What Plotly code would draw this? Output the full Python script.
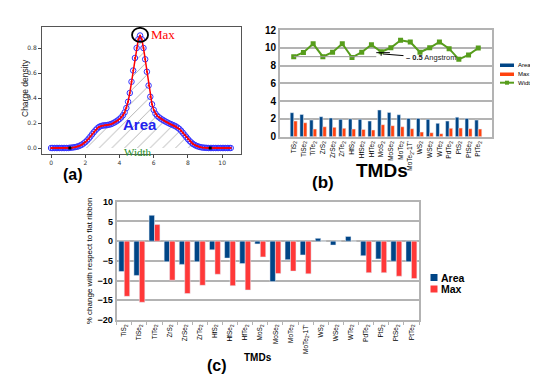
import plotly.graph_objects as go

# ---- panel (a): charge density profile ----
pos = [round(0.1 * i, 1) for i in range(106)]
density = [
    0.0, 0.0, 0.0, 0.0, 0.0, 0.0, 0.0, 0.0, 0.0, 0.0, 0.0,
    0.002, 0.003, 0.005, 0.007, 0.010, 0.014, 0.020, 0.027, 0.036, 0.047,
    0.060, 0.075, 0.092, 0.110, 0.127, 0.143, 0.157, 0.168, 0.175, 0.179,
    0.181, 0.182, 0.184, 0.187, 0.191, 0.197, 0.204, 0.212, 0.221, 0.232,
    0.245, 0.262, 0.285, 0.320, 0.370, 0.440, 0.530, 0.620, 0.720, 0.800,
    0.870, 0.900, 0.870, 0.800, 0.710, 0.610, 0.500, 0.410, 0.350, 0.305,
    0.275, 0.258, 0.246, 0.236, 0.227, 0.219, 0.211, 0.204, 0.197, 0.191,
    0.185, 0.179, 0.172, 0.163, 0.152, 0.138, 0.122, 0.105, 0.088, 0.071,
    0.056, 0.043, 0.032, 0.024, 0.017, 0.012, 0.008, 0.005, 0.003, 0.002,
    0.001, 0.0, 0.0, 0.0, 0.0, 0.0, 0.0, 0.0, 0.0, 0.0,
    0.0, 0.0, 0.0, 0.0, 0.0,
]
width_ends_x = [1.1, 9.3]
width_ends_y = [0.0, 0.0]

# ---- panels (b) and (c) ----
tmds = ["TiS<sub>2</sub>", "TiSe<sub>2</sub>", "TiTe<sub>2</sub>", "ZrS<sub>2</sub>",
        "ZrSe<sub>2</sub>", "ZrTe<sub>2</sub>", "HfS<sub>2</sub>", "HfSe<sub>2</sub>",
        "HfTe<sub>2</sub>", "MoS<sub>2</sub>", "MoSe<sub>2</sub>", "MoTe<sub>2</sub>",
        "MoTe<sub>2</sub>-1T'", "WS<sub>2</sub>", "WSe<sub>2</sub>", "WTe<sub>2</sub>",
        "PdTe<sub>2</sub>", "PtS<sub>2</sub>", "PtSe<sub>2</sub>", "PtTe<sub>2</sub>"]

area_b = [2.7, 2.5, 1.87, 2.25, 2.1, 1.95, 2.0, 1.95, 1.76, 3.0,
          2.73, 2.47, 2.06, 2.06, 1.95, 1.5, 1.76, 2.2, 2.06, 1.87]
max_b = [1.76, 1.57, 0.86, 1.12, 1.05, 0.94, 0.86, 0.82, 0.75, 1.35,
         1.24, 1.12, 0.9, 0.52, 0.45, 0.34, 0.94, 0.97, 0.9, 0.86]
width_b = [9.0, 9.48, 10.45, 9.0, 9.5, 10.45, 8.9, 9.5, 10.35, 9.55,
           10.0, 10.85, 10.65, 9.5, 10.0, 10.65, 9.9, 8.7, 9.2, 9.97]

area_c = [-7.7, -8.7, 6.55, -5.2, -5.9, -5.2, -2.2, -4.3, -5.7, -0.7,
          -10.25, -4.7, -3.5, 0.7, -1.0, 1.2, -3.7, -4.5, -5.1, -5.2]
max_c = [-14.0, -15.5, 4.2, -9.9, -13.3, -11.2, -8.4, -11.3, -12.4, -4.0,
         -8.2, -7.6, -8.3, 0.0, 0.0, 0.0, -8.0, -8.0, -8.9, -9.5]

BLUE = "#004586"
ORANGE = "#ff420e"
GREEN = "#579d1c"
RED = "#ff3838"
grid = "#b3b3b3"

# the page body keeps its default 8px margin, so the figure is 8px smaller
# and all window positions below are shifted by that much
OFF = 8
W, H = 538 - OFF, 381 - OFF


def px(x):
    return (x - OFF) / W


def py(y):
    return 1 - (y - OFF) / H


fig = go.Figure()

# (a)
fig.add_trace(go.Scatter(x=pos, y=density, mode="lines", line=dict(width=0),
                         fill="tozeroy", fillcolor="rgba(0,0,0,0)",
                         fillpattern=dict(shape="/", fgcolor="#333333", bgcolor="rgba(0,0,0,0)",
                                          size=9, solidity=0.08),
                         showlegend=False, hoverinfo="skip", xaxis="x", yaxis="y"))
fig.add_trace(go.Scatter(x=pos, y=density, mode="markers",
                         marker=dict(symbol="circle-open", size=5.5, color="#3333ff", line=dict(width=1)),
                         showlegend=False, xaxis="x", yaxis="y"))
fig.add_trace(go.Scatter(x=pos, y=density, mode="lines+markers",
                         line=dict(color="red", width=1.5), marker=dict(size=2, color="red"),
                         showlegend=False, xaxis="x", yaxis="y"))
fig.add_trace(go.Scatter(x=width_ends_x, y=width_ends_y, mode="markers",
                         marker=dict(symbol="square", size=3, color="black"),
                         showlegend=False, xaxis="x", yaxis="y"))

# (b)
fig.add_trace(go.Bar(x=tmds, y=area_b, name="Area", marker_color=BLUE,
                     showlegend=False, xaxis="x2", yaxis="y2"))
fig.add_trace(go.Bar(x=tmds, y=max_b, name="Max", marker_color=ORANGE,
                     showlegend=False, xaxis="x2", yaxis="y2"))
fig.add_trace(go.Scatter(x=tmds, y=width_b, name="Width", mode="lines+markers",
                         line=dict(color=GREEN, width=2),
                         marker=dict(symbol="square", size=5, color=GREEN),
                         showlegend=False, xaxis="x2", yaxis="y2"))

# (c)
fig.add_trace(go.Bar(x=tmds, y=area_c, name="Area", marker_color=BLUE,
                     showlegend=False, xaxis="x3", yaxis="y3"))
fig.add_trace(go.Bar(x=tmds, y=max_c, name="Max", marker_color=RED,
                     showlegend=False, xaxis="x3", yaxis="y3"))

fig.update_layout(
    width=W, height=H, margin=dict(l=0, r=0, t=0, b=0),
    paper_bgcolor="white", plot_bgcolor="white",
    font=dict(family="Liberation Sans", color="black"),
    barmode="group", bargap=0.28, bargroupgap=0,
    xaxis=dict(domain=[px(42), px(241)], anchor="y", range=[-0.53, 11.1], automargin=False,
               tickvals=[0, 2, 4, 6, 8, 10], ticks="outside", ticklen=3, tickcolor="#444",
               tickfont=dict(size=6, color="#333", family="DejaVu Sans"),
               showline=True, mirror=True, linecolor="#555", linewidth=1, showgrid=False, zeroline=False),
    yaxis=dict(domain=[py(154), py(27)], anchor="x", range=[-0.048, 0.968], automargin=False,
               tickvals=[0, 0.2, 0.4, 0.6, 0.8], ticktext=["0.0", "0.2", "0.4", "0.6", "0.8"],
               ticks="outside", ticklen=3, tickcolor="#444",
               tickfont=dict(size=6, color="#333", family="DejaVu Sans"),
               showline=True, mirror=True, linecolor="#555", linewidth=1, showgrid=False, zeroline=False),
    xaxis2=dict(domain=[px(280), px(492)], anchor="y2", tickangle=-90, automargin=False,
                tickfont=dict(size=6.5), ticks="", showline=True, mirror=True,
                linecolor=grid, linewidth=2, showgrid=False),
    yaxis2=dict(domain=[py(136.7), py(30)], anchor="x2", range=[0, 12], dtick=2, automargin=False,
                tickfont=dict(size=10, weight="bold"), showgrid=True, gridcolor=grid, gridwidth=1.5,
                showline=True, mirror=True, linecolor=grid, linewidth=2, zeroline=False),
    xaxis3=dict(domain=[px(116.7), px(419)], anchor="y3", tickangle=-90, automargin=False,
                tickfont=dict(size=6.5), ticks="outside", ticklen=3, tickcolor=grid,
                tickson="boundaries",
                showline=True, mirror=True, linecolor=grid, linewidth=2, showgrid=False),
    yaxis3=dict(domain=[py(320), py(201.7)], anchor="x3", range=[-20, 10], dtick=5, automargin=False,
                tickfont=dict(size=9, weight="bold"), showgrid=True, gridcolor=grid, gridwidth=1.5,
                showline=True, mirror=True, linecolor=grid, linewidth=2, zeroline=False,
                title=dict(text="% change with respect to flat ribbon", font=dict(size=8), standoff=4)),
)

shapes = [
    # circle around the maximum in (a)
    dict(type="circle", xref="x", yref="y", xsizemode="pixel", ysizemode="pixel",
         xanchor=5.2, yanchor=0.905, x0=-8, x1=8, y0=-7, y1=7,
         line=dict(color="black", width=1.8)),
    # 0.5 Angstrom marker in (b)
    dict(type="line", xref="x2", yref="y2", x0=0, x1=8.5, y0=9.0, y1=9.0,
         line=dict(color="#999999", width=1)),
    dict(type="line", xref="x2", yref="y2", x0=8.5, x1=9.9, y0=9.45, y1=9.45,
         line=dict(color="black", width=1)),
    dict(type="line", xref="x2", yref="y2", x0=9.0, x1=9.0, y0=9.45, y1=9.1,
         line=dict(color="black", width=1)),
    dict(type="line", xref="x2", yref="y2", x0=9.2, x1=11.3, y0=9.3, y1=9.12,
         line=dict(color="black", width=1)),
    # legend (b)
    dict(type="rect", xref="paper", yref="paper", x0=px(500), x1=px(514), y0=py(67), y1=py(63.5),
         fillcolor=BLUE, line=dict(width=0)),
    dict(type="rect", xref="paper", yref="paper", x0=px(500), x1=px(514), y0=py(76), y1=py(72.5),
         fillcolor=ORANGE, line=dict(width=0)),
    dict(type="line", xref="paper", yref="paper", x0=px(500), x1=px(514), y0=py(82.7), y1=py(82.7),
         line=dict(color=GREEN, width=2)),
    dict(type="rect", xref="paper", yref="paper", x0=px(505), x1=px(509), y0=py(84.7), y1=py(80.7),
         fillcolor=GREEN, line=dict(width=0)),
    # legend (c)
    dict(type="rect", xref="paper", yref="paper", x0=px(430.5), x1=px(437.5), y0=py(281), y1=py(274),
         fillcolor=BLUE, line=dict(width=0)),
    dict(type="rect", xref="paper", yref="paper", x0=px(430.5), x1=px(437.5), y0=py(292.5), y1=py(285.5),
         fillcolor=RED, line=dict(width=0)),
]

annotations = [
    dict(text="Charge density", x=px(25), y=py(88), xref="paper", yref="paper", xanchor="center",
         textangle=-90, font=dict(size=8.5, color="#222", family="Liberation Sans Narrow, Liberation Sans")),
    dict(text="Max", x=5.72, y=0.905, xref="x", yref="y", xanchor="left",
         font=dict(size=13, color="red", family="Liberation Serif")),
    dict(text="<b>Area</b>", x=5.2, y=0.19, xref="x", yref="y", xanchor="center",
         font=dict(size=15, color="#2222ee")),
    dict(text="Width", x=5.1, y=-0.03, xref="x", yref="y", xanchor="center",
         font=dict(size=11, color="#228b22", family="Liberation Serif")),
    dict(text="<b>(a)</b>", x=px(73), y=py(174), xref="paper", yref="paper", xanchor="center",
         font=dict(size=16)),
    dict(text="<b>– 0.5</b> Angstrom", x=11.35, y=8.95, xref="x2", yref="y2", xanchor="left",
         font=dict(size=7.5, color="#222")),
    dict(text="<b>TMDs</b>", x=px(382), y=py(170), xref="paper", yref="paper", xanchor="center",
         font=dict(size=19)),
    dict(text="<b>(b)</b>", x=px(323), y=py(182), xref="paper", yref="paper", xanchor="center",
         font=dict(size=17)),
    dict(text="Area", x=px(515.5), y=py(65.3), xref="paper", yref="paper", xanchor="left",
         font=dict(size=6)),
    dict(text="Max", x=px(515.5), y=py(74.3), xref="paper", yref="paper", xanchor="left",
         font=dict(size=6)),
    dict(text="Width", x=px(515.5), y=py(82.7), xref="paper", yref="paper", xanchor="left",
         font=dict(size=6)),
    dict(text="<b>TMDs</b>", x=px(258), y=py(357), xref="paper", yref="paper", xanchor="center",
         font=dict(size=10)),
    dict(text="<b>(c)</b>", x=px(217), y=py(365), xref="paper", yref="paper", xanchor="center",
         font=dict(size=16)),
    dict(text="<b>Area</b>", x=px(439), y=py(277.5), xref="paper", yref="paper", xanchor="left",
         font=dict(size=10.5)),
    dict(text="<b>Max</b>", x=px(439), y=py(289), xref="paper", yref="paper", xanchor="left",
         font=dict(size=10.5)),
]
for a in annotations:
    a["showarrow"] = False
    a["yanchor"] = "middle"
fig.update_layout(shapes=shapes, annotations=annotations)

fig.write_html("out.html")
